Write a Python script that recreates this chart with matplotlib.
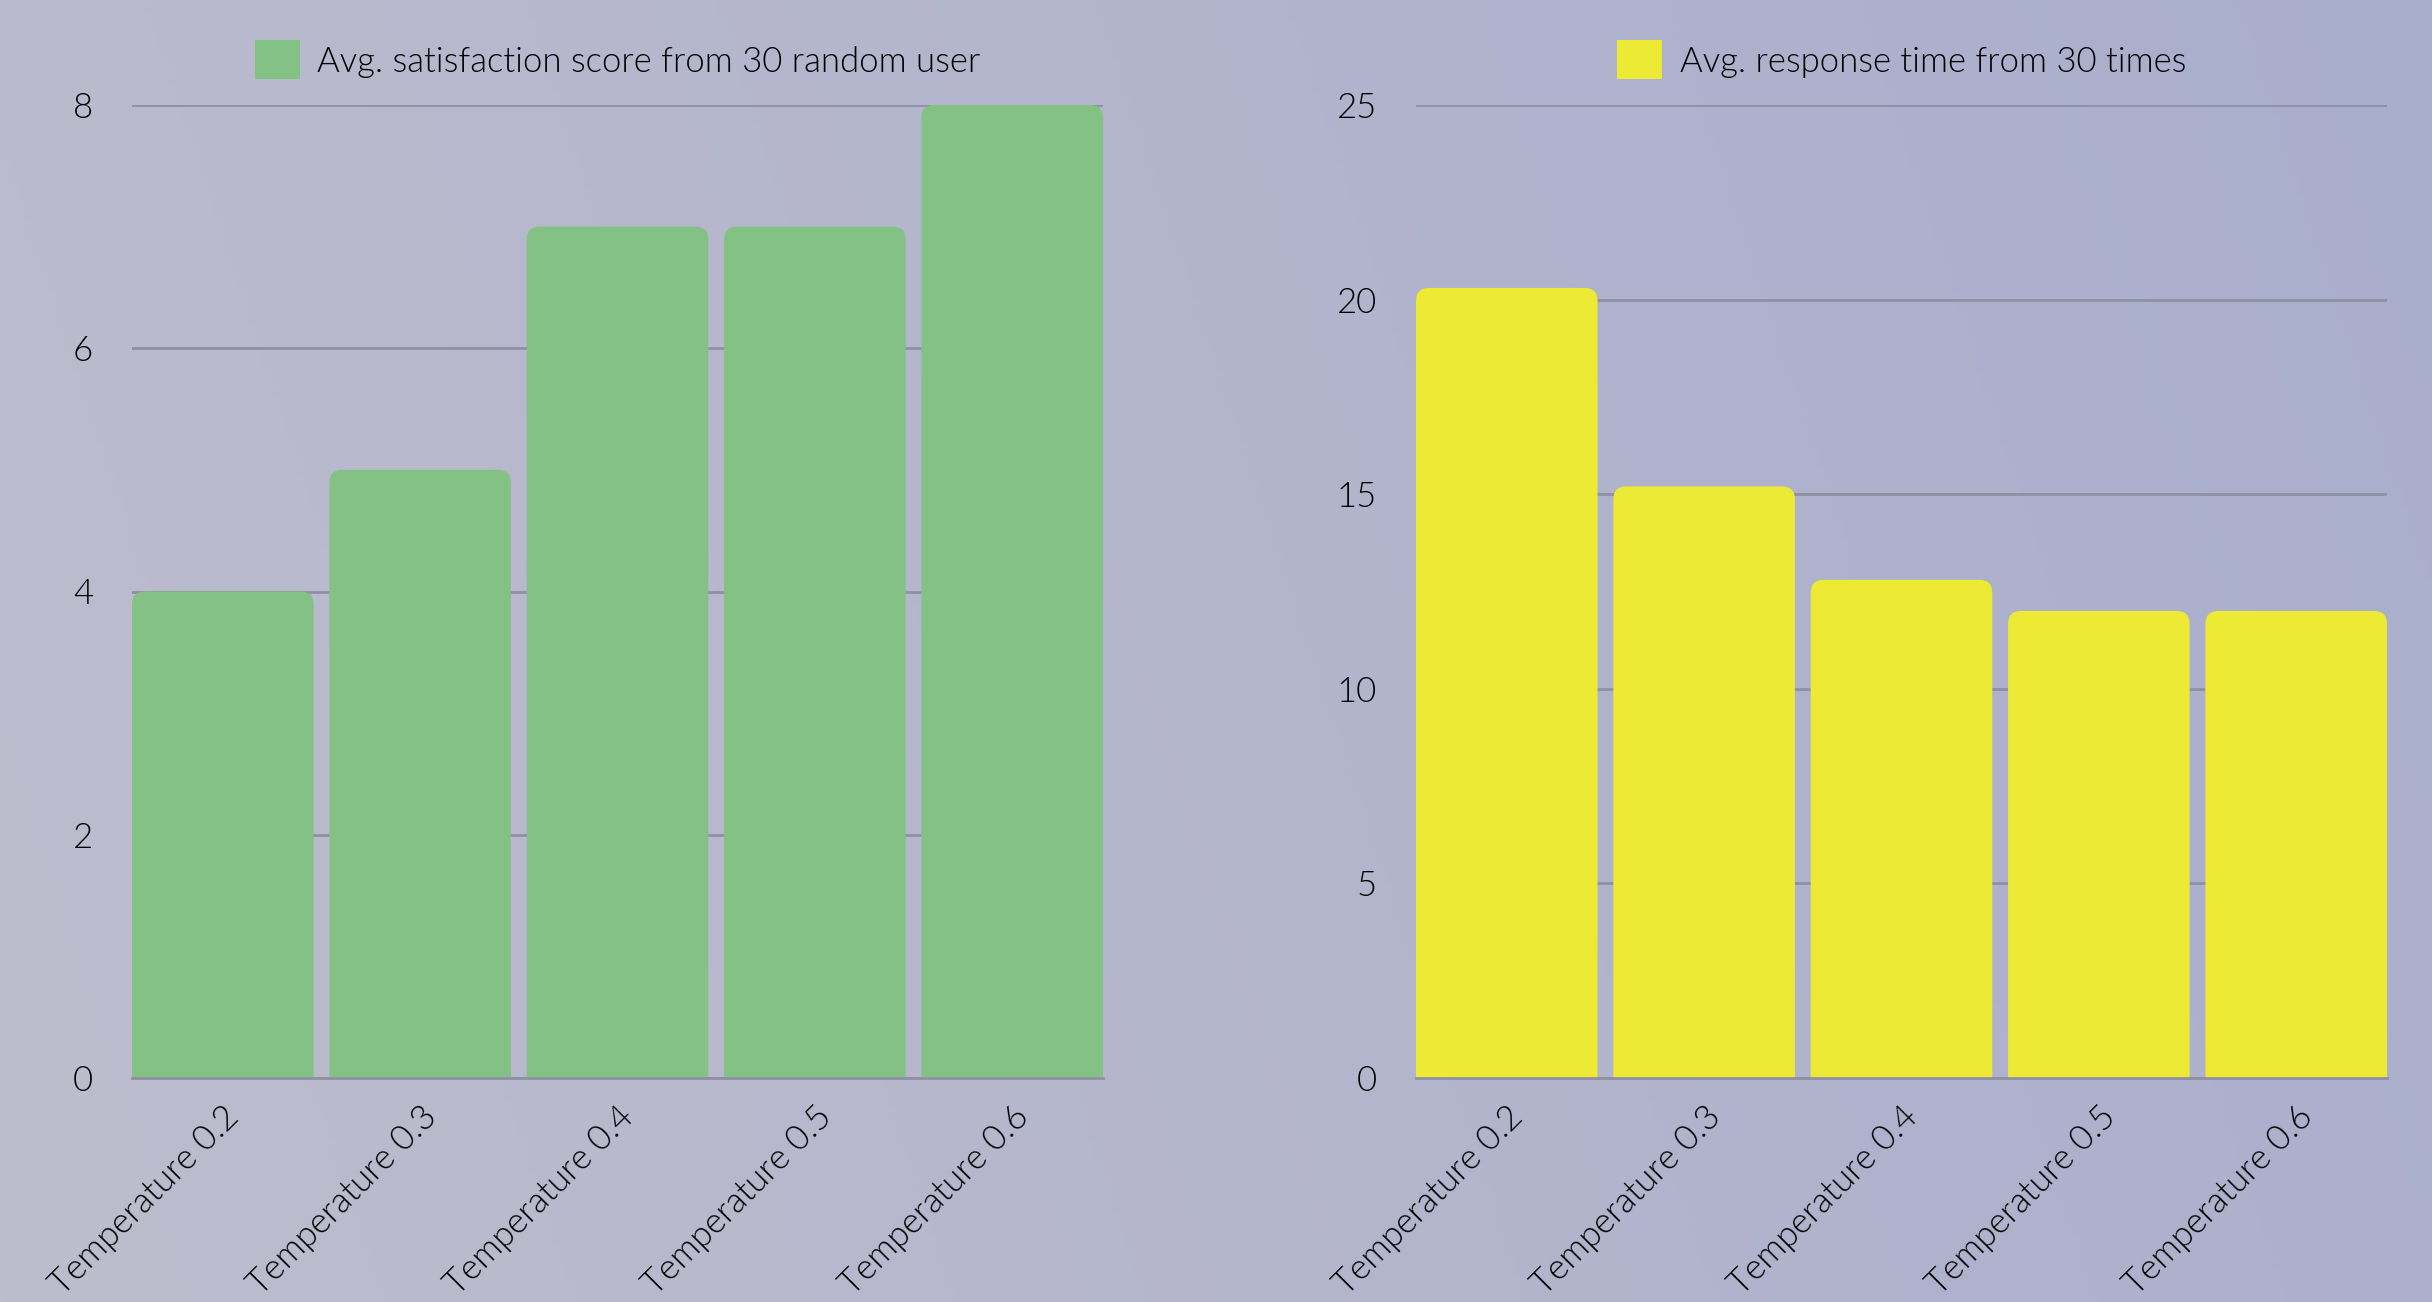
import numpy as np
import matplotlib
matplotlib.use("Agg")
import matplotlib.pyplot as plt
from matplotlib.patches import FancyBboxPatch, Patch

# ---------- données ----------
categories = ["Temperature 0.2", "Temperature 0.3", "Temperature 0.4",
              "Temperature 0.5", "Temperature 0.6"]
satisfaction = [4, 5, 7, 7, 8]
response_time = [20.3, 15.2, 12.8, 12.0, 12.0]

satisfaction_label = "Avg. satisfaction score from 30 random user"
response_label = "Avg. response time from 30 times"

sat_ticks = [0, 2, 4, 6, 8]
resp_ticks = [0, 5, 10, 15, 20, 25]
# ------------------------------

GREEN = "#84c184"
YELLOW = "#ecea35"
GRID = "#8f90a3"
FONT = "Lato"
FS = 25

plt.rcParams["font.family"] = [FONT, "DejaVu Sans"]
plt.rcParams["font.weight"] = 300
plt.rcParams["text.color"] = "black"
plt.rcParams["xtick.color"] = "black"
plt.rcParams["ytick.color"] = "black"

fig = plt.figure(figsize=(24.32, 13.02), dpi=100)

# fond en dégradé
bg = fig.add_axes([0, 0, 1, 1], zorder=-10)
left_c = np.array([0xbe, 0xbd, 0xce]) / 255
right_c = np.array([0xa9, 0xae, 0xcc]) / 255
gx = np.linspace(0, 1, 400)
gy = np.linspace(0, 1, 200)
GX, GY = np.meshgrid(gx, gy)
t = np.clip(0.85 * GX + 0.15 * (1 - GY), 0, 1)[..., None]
img = left_c * (1 - t) + right_c * t
bg.imshow(img, aspect="auto", extent=[0, 1, 0, 1], origin="upper")
bg.axis("off")


def draw_panel(ax, values, color, ymax, ticks, label):
    x = np.arange(len(categories))
    width = 0.92
    bars = ax.bar(x, values, width=width, color=color, zorder=2)
    ax.set_xlim(-width / 2, len(categories) - 1 + width / 2)
    ax.set_ylim(0, ymax)

    # coins arrondis en haut ; le bas passe sous l'axe (coupé)
    bb = ax.get_window_extent()
    xpp = (len(categories) - 1 + width) / bb.width
    ypp = ymax / bb.height
    r_px = 13
    for b in bars:
        b.set_visible(False)
        p = FancyBboxPatch((b.get_x(), -2 * r_px * ypp), b.get_width(),
                           b.get_height() + 2 * r_px * ypp,
                           boxstyle=f"round,pad=0,rounding_size={r_px * xpp}",
                           mutation_aspect=ypp / xpp,
                           fc=color, ec="none", zorder=2)
        ax.add_patch(p)

    ax.set_facecolor("none")
    for s in ax.spines.values():
        s.set_visible(False)
    ax.set_yticks(ticks)
    ax.set_yticklabels([str(v) for v in ticks])
    ax.yaxis.grid(True, color=GRID, linewidth=2, zorder=1)
    ax.set_axisbelow(True)
    ax.axhline(0, color=GRID, linewidth=2, zorder=3, clip_on=False)
    ax.tick_params(axis="y", length=0, pad=28, labelsize=FS)
    ax.set_xticks(x)
    ax.set_xticklabels(categories, rotation=45, ha="right",
                       rotation_mode="anchor", fontsize=FS)
    ax.tick_params(axis="x", length=0, pad=16)

    ax.legend(handles=[Patch(fc=color, ec="none", label=label)],
              loc="lower center", bbox_to_anchor=(0.5, 1.012), frameon=False,
              fontsize=FS, handlelength=1.3, handleheight=1.35,
              handletextpad=0.5, borderaxespad=0)


ax1 = fig.add_axes([132 / 2432, 224 / 1302, 971 / 2432, 973 / 1302])
ax2 = fig.add_axes([1416 / 2432, 224 / 1302, 971 / 2432, 973 / 1302])

draw_panel(ax1, satisfaction, GREEN, 8, sat_ticks, satisfaction_label)
draw_panel(ax2, response_time, YELLOW, 25, resp_ticks, response_label)

fig.savefig("out.png", dpi=100)
